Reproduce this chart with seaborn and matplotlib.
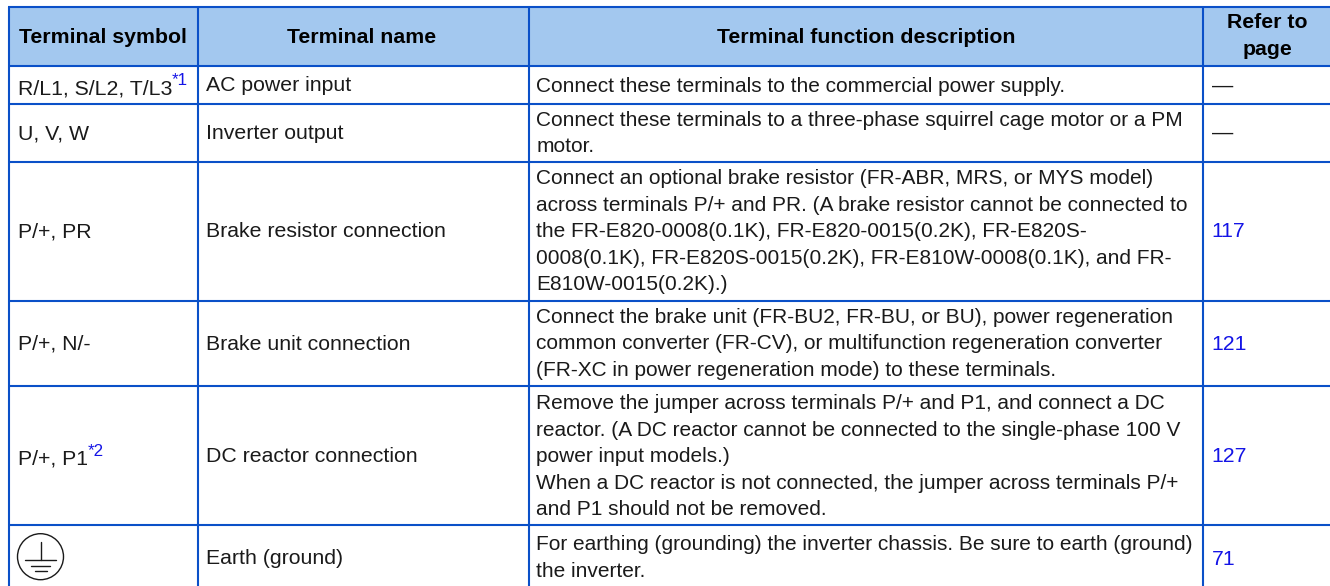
import matplotlib.pyplot as plt
from matplotlib.patches import Circle
import seaborn as sns

headers = ["Terminal symbol", "Terminal name", "Terminal function description", "Refer to\npage"]
symbols = ["R/L1, S/L2, T/L3", "U, V, W", "P/+, PR", "P/+, N/-", "P/+, P1", ""]
symbol_notes = ["*1", "", "", "", "*2", ""]
names = ["AC power input", "Inverter output", "Brake resistor connection",
         "Brake unit connection", "DC reactor connection", "Earth (ground)"]
descriptions = [
    ["Connect these terminals to the commercial power supply."],
    ["Connect these terminals to a three-phase squirrel cage motor or a PM",
     "motor."],
    ["Connect an optional brake resistor (FR-ABR, MRS, or MYS model)",
     "across terminals P/+ and PR. (A brake resistor cannot be connected to",
     "the FR-E820-0008(0.1K), FR-E820-0015(0.2K), FR-E820S-",
     "0008(0.1K), FR-E820S-0015(0.2K), FR-E810W-0008(0.1K), and FR-",
     "E810W-0015(0.2K).)"],
    ["Connect the brake unit (FR-BU2, FR-BU, or BU), power regeneration",
     "common converter (FR-CV), or multifunction regeneration converter",
     "(FR-XC in power regeneration mode) to these terminals."],
    ["Remove the jumper across terminals P/+ and P1, and connect a DC",
     "reactor. (A DC reactor cannot be connected to the single-phase 100 V",
     "power input models.)",
     "When a DC reactor is not connected, the jumper across terminals P/+",
     "and P1 should not be removed."],
    ["For earthing (grounding) the inverter chassis. Be sure to earth (ground)",
     "the inverter."],
]
pages = ["\u2014", "\u2014", "117", "121", "127", "71"]

# layout in pixels
col_x = [9, 197.5, 529, 1203]
row_y = [7, 65.5, 104, 161.5, 300.5, 386, 524.7]
text_x = [17.5, 205.5, 536.5, 1211.5]
head_cx = [103, 362, 866, 1267.5]
first_base = [91.5, 125.7, 184, 322.7, 409, 550]
symbol_base = [94.3, 139.3, 237.3, 350, 464.5, 564]
name_base = [91.3, 139.3, 237.3, 350, 462, 563.5]
page_base = [91.3, 139, 237.3, 350, 462, 565]
note_x = [172, 0, 0, 0, 87.5, 0]
note_base = [84.7, 0, 0, 0, 456, 0]
pitch = 26.55

BLUE = "#0a50c8"
HEAD = "#a3c8ef"
LINK = "#1414e6"
INK = "#1a1a1a"
FS = 15.3
FS_DESC = 15.05

sns.set_theme(style="white")
plt.rcParams['font.family'] = ['Liberation Sans', 'DejaVu Sans']

fig, ax = plt.subplots(figsize=(13.3, 5.86), dpi=100)
fig.subplots_adjust(0, 0, 1, 1)
ax.set_xlim(0, 1330)
ax.set_ylim(586, 0)
ax.axis('off')

ax.axhspan(row_y[0], row_y[1], xmin=col_x[0] / 1330, color=HEAD, lw=0)
ax.hlines(row_y, col_x[0] - 1, 1330, color=BLUE, lw=1.5)
ax.vlines(col_x, row_y[0], 586, color=BLUE, lw=1.5)

for i, h in enumerate(headers):
    if "\n" in h:
        top, bottom = h.split("\n")
        ax.text(head_cx[i], 28, top, ha='center', va='baseline', fontsize=FS, weight='bold', color='black')
        ax.text(head_cx[i], 55, bottom, ha='center', va='baseline', fontsize=FS, weight='bold', color='black')
    else:
        ax.text(head_cx[i], 42.7, h, ha='center', va='baseline', fontsize=FS, weight='bold', color='black')

for i in range(len(names)):
    ax.text(text_x[0], symbol_base[i], symbols[i], va='baseline', fontsize=FS, color=INK)
    if symbol_notes[i]:
        ax.text(note_x[i], note_base[i], symbol_notes[i], va='baseline', fontsize=FS * 0.8, color=LINK)
    ax.text(text_x[1], name_base[i], names[i], va='baseline', fontsize=FS, color=INK)
    for j, line in enumerate(descriptions[i]):
        ax.text(text_x[2], first_base[i] + j * pitch, line, va='baseline', fontsize=FS_DESC, color=INK)
    ax.text(text_x[3], page_base[i], pages[i], va='baseline', fontsize=FS,
            color=LINK if pages[i].isdigit() else INK)

# earth symbol
ax.add_patch(Circle((40.5, 556.7), 23, fill=False, ec=INK, lw=1))
ax.plot([40.5, 40.5], [541.5, 560], color=INK, lw=1)
ax.plot([25, 56], [560, 560], color=INK, lw=1)
ax.plot([31, 50], [566, 566], color=INK, lw=1)
ax.plot([35, 47], [571, 571], color=INK, lw=1)

fig.savefig("out.png", dpi=100)
